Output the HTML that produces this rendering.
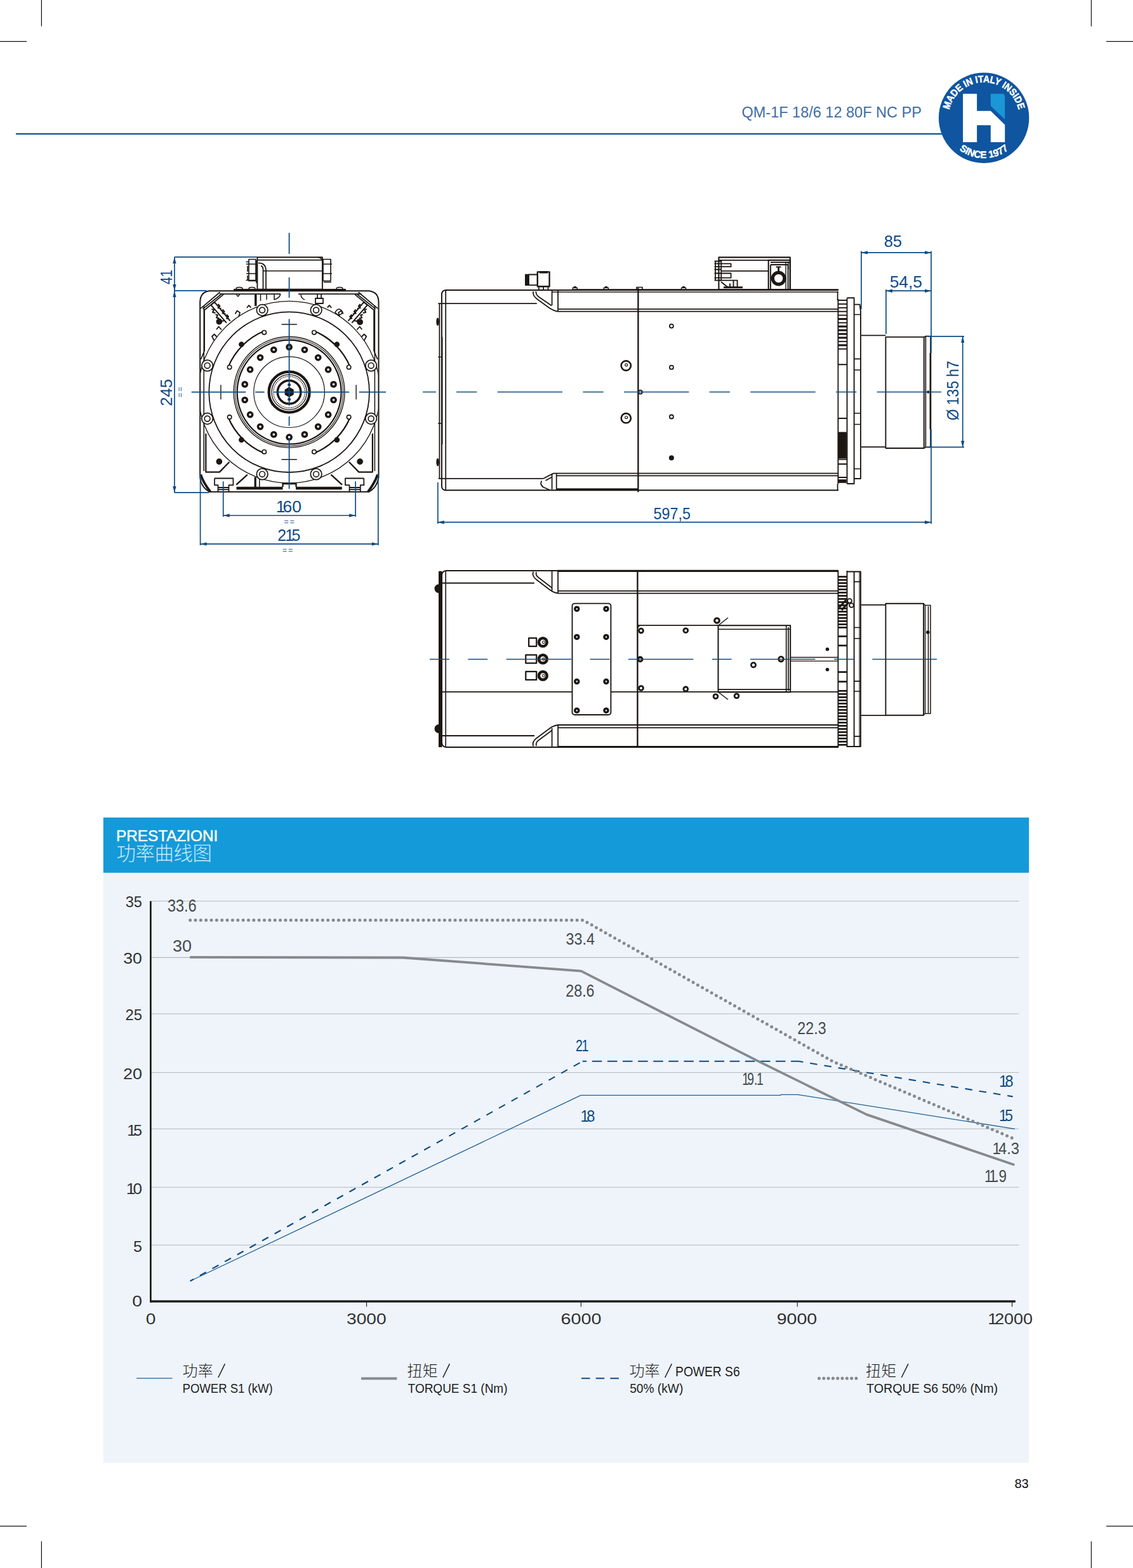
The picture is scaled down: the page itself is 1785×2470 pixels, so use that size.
<!DOCTYPE html>
<html><head><meta charset="utf-8"><title>QM-1F 18/6 12 80F NC PP</title>
<style>
html,body{margin:0;padding:0;background:#fff;}
body{width:1785px;height:2470px;overflow:hidden;}
svg{display:block;font-family:"Liberation Sans",sans-serif;}
</style></head><body>
<svg width="1785" height="2470" viewBox="0 0 1785 2470">
<g stroke="#111" stroke-width="1.2" fill="none">
<line x1="65.4" y1="0" x2="65.4" y2="41.5"/>
<line x1="0" y1="65.4" x2="42" y2="65.4"/>
<line x1="1719.3" y1="0" x2="1719.3" y2="41.5"/>
<line x1="1743" y1="65.4" x2="1785" y2="65.4"/>
<line x1="0" y1="2404.2" x2="42" y2="2404.2"/>
<line x1="65.4" y1="2428" x2="65.4" y2="2470"/>
<line x1="1743" y1="2404.2" x2="1785" y2="2404.2"/>
<line x1="1719.3" y1="2428" x2="1719.3" y2="2470"/>
</g>
<rect x="25" y="209.8" width="1460" height="2.2" fill="#12508f"/>
<text transform="translate(1168.44,185.30) scale(0.9493,1)" font-size="24.78" fill="#3f6da3">QM-1F 18/6 12 80F NC PP</text>
<circle cx="1550.1" cy="185.7" r="71.2" fill="#0f55a0"/>
<path d="M1517.1 147.8H1539.1V174.7H1560.8L1583.2 196.4V224.1H1560.8V197.2H1539.1V224.1H1517.1Z" fill="#fff"/>
<path d="M1560.8 147.8H1581.4L1583.2 151.5V187.9L1560.8 167Z" fill="#1b96d6"/>
<defs><path id="arcT" d="M1494.1 185.7A56 56 0 0 1 1606.1 185.7"/><path id="arcB" d="M1486.6 185.7A63.5 63.5 0 0 0 1613.6 185.7"/></defs>
<text font-size="15.5" font-weight="bold" fill="#fff" stroke="#fff" stroke-width="0.5" text-anchor="middle"><textPath href="#arcT" startOffset="50%" textLength="150" lengthAdjust="spacingAndGlyphs">MADE IN ITALY INSIDE</textPath></text>
<text font-size="15.5" font-weight="bold" fill="#fff" stroke="#fff" stroke-width="0.4" text-anchor="middle"><textPath href="#arcB" startOffset="50%" textLength="84" lengthAdjust="spacingAndGlyphs">SINCE 1977</textPath></text>
<text transform="translate(1598.50,2343.60) scale(0.9811,1)" font-size="20.29" fill="#111">83</text>
<g fill="none" stroke="#1d1714" stroke-linecap="butt" stroke-linejoin="round">
<defs><clipPath id="hc"><rect x="316" y="459" width="279.4" height="315"/></clipPath></defs>
<rect x="405.4" y="405.2" width="102.5" height="50.4" rx="0" stroke-width="1.89" fill="none"/>
<path d="M405.4 409.6L507.9 409.6M415.0 426.7L507.9 426.7" stroke-width="1.65"/>
<path d="M500 405.2Q507.9 405.5 507.9 413" stroke-width="1.42"/>
<path d="M404 410V446 M392 408.5h11v34h-11z M388 416h16 M388 431h16 M390 419v9 M390 434v7 M387.5 412.5h4 M387.5 441.5h16" stroke-width="1.65"/>
<path d="M407 414.5Q418 414 419 425V455 M411 419Q414.5 419 414.5 425V455" stroke-width="1.77"/>
<path d="M509 408.5h12v34h-12z M509 416h14 M509 431h14 M521 419v9 M521 434v7 M510 444.5h12" stroke-width="1.65"/>
<path d="M368.0 456.6L545.0 456.6" stroke-width="3.07"/>
<path d="M372 455a4 2 0 0 1 10 0 M392 455a4 2 0 0 1 10 0 M530 455a4 2 0 0 1 10 0" stroke-width="1.53"/>
<path d="M329.5 458.2H581.5Q596.5 460 596.5 476V752Q594 768 581 774.8H330.4Q317 768 315.2 752V476Q315.5 460 329.5 458.2Z" stroke-width="2.01"/>
<path d="M346.0 463.2L442.0 463.2M470.0 463.2L569.4 463.2" stroke-width="1.77"/>
<path d="M321.2 482.0L321.2 742.0M590.4 482.0L590.4 742.0" stroke-width="1.53"/>
<path d="M316.2 485.9L346.6 460.3 M319.5 486.6L349.5 462.8 M321.7 488.8L352.1 463.9 M595 485.9L564.6 460.3 M591.7 486.6L561.7 462.8 M589.5 488.8L559.1 463.9" stroke-width="1.77"/>
<path d="M316.3 747.5Q320 760 331.5 774.6 M594.9 747.5Q591 760 579.7 774.6" stroke-width="3.78"/>
<g clip-path="url(#hc)"><circle cx="455.6" cy="617.7" r="143.3" stroke-width="1.4"/></g>
<circle cx="455.6" cy="617.7" r="126.3" stroke-width="1.77" fill="none"/>
<path d="M432 463.2V472Q440 470 442 463.2 M474 463.2Q474 470 480 472" stroke-width="1.53"/>
<path d="M322.1 489V552.5L316.5 566 M589.1 489V552.5L594.7 566" stroke-width="1.77"/>
<path d="M332.7 480.8L356.9 508.6 M337.8 475.6L362.7 505.6 M332 481.2L337.8 475.6 M343.5 479L346.5 482.5L343.5 485L348.5 486 M350.5 487.5L353.5 491L350.5 493.5L355.5 494.5 M357 495.5L360 499L357 501.5L361 502.5 M333.5 487L337 488L335 492L339.5 493 M339.5 495.5L343 496.5L341 500.5L345.5 501.5 M346 503L349 506L353.5 505" stroke-width="2.01"/>
<path d="M578.5 480.8L554.3 508.6 M573.4 475.6L548.5 505.6 M579.2 481.2L573.4 475.6 M567.7 479L564.7 482.5L567.7 485L562.7 486 M560.7 487.5L557.7 491L560.7 493.5L555.7 494.5 M554.2 495.5L551.2 499L554.2 501.5L550.2 502.5 M577.7 487L574.2 488L576.2 492L571.7 493 M571.7 495.5L568.2 496.5L570.2 500.5L565.7 501.5 M565.2 503L562.2 506L557.7 505" stroke-width="2.01"/>
<path d="M337.5 536.5L334 530L337.5 526.5L341.5 530.5 M341 519L344.5 514.5L349 519.5 M370.5 494.5L373.5 489.5L378 492.5L376 499 M389 485L392 481L395.5 484.5" stroke-width="1.77"/>
<path d="M573.7 536.5L577.2 530L573.7 526.5L569.7 530.5 M570.2 519L566.7 514.5L562.2 519.5 M540.7 494.5L537.7 489.5L533.2 492.5L535.2 499 M522.2 485L519.2 481L515.7 484.5" stroke-width="1.77"/>
<path d="M402.8 463.9V482" stroke-width="3.54"/>
<path d="M410.5 463.9V474 M420 463.9V472 M372.5 463.9l2.5 3l2.5 -3" stroke-width="1.53"/>
<path d="M497 470h12v8h-12z M500 463v7 M506 463v7" stroke-width="1.77"/>
<path d="M540 492q-6 -10 -12 0q6 8 12 0" stroke-width="1.53"/>
<circle cx="455.6" cy="617.7" r="87.4" stroke-width="1.42" fill="none"/>
<circle cx="455.6" cy="617.7" r="85.0" stroke-width="1.06" fill="none"/>
<circle cx="455.6" cy="617.7" r="82.0" stroke-width="2.24" fill="none"/>
<circle cx="455.6" cy="617.7" r="55.8" stroke-width="1.18" fill="none"/>
<circle cx="455.6" cy="617.7" r="32.0" stroke-width="4.25" fill="none"/>
<circle cx="455.6" cy="617.7" r="27.6" stroke-width="1.30" fill="none"/>
<circle cx="455.6" cy="617.7" r="24.8" stroke-width="1.3" stroke-dasharray="1.6 1.2"/>
<circle cx="455.6" cy="617.7" r="18.3" stroke-width="3.54" fill="none"/>
<polygon points="462.2,621.5 455.6,625.3 449.0,621.5 449.0,613.9 455.6,610.1 462.2,613.9" fill="#1d1714" stroke="#1d1714" stroke-width="1"/>
<circle cx="455.6" cy="606.2" r="1.8" stroke-width="1.18" fill="#1d1714"/>
<circle cx="455.6" cy="629.2" r="1.8" stroke-width="1.18" fill="#1d1714"/>
<circle cx="455.6" cy="546.7" r="3.6" stroke-width="3.54" fill="#fff"/>
<circle cx="431.3" cy="551.0" r="3.6" stroke-width="3.54" fill="#fff"/>
<circle cx="410.0" cy="563.3" r="3.6" stroke-width="3.54" fill="#fff"/>
<circle cx="394.1" cy="582.2" r="3.6" stroke-width="3.54" fill="#fff"/>
<circle cx="385.7" cy="605.4" r="3.6" stroke-width="3.54" fill="#fff"/>
<circle cx="385.7" cy="630.0" r="3.6" stroke-width="3.54" fill="#fff"/>
<circle cx="394.1" cy="653.2" r="3.6" stroke-width="3.54" fill="#fff"/>
<circle cx="410.0" cy="672.1" r="3.6" stroke-width="3.54" fill="#fff"/>
<circle cx="431.3" cy="684.4" r="3.6" stroke-width="3.54" fill="#fff"/>
<circle cx="455.6" cy="688.7" r="3.6" stroke-width="3.54" fill="#fff"/>
<circle cx="479.9" cy="684.4" r="3.6" stroke-width="3.54" fill="#fff"/>
<circle cx="501.2" cy="672.1" r="3.6" stroke-width="3.54" fill="#fff"/>
<circle cx="517.1" cy="653.2" r="3.6" stroke-width="3.54" fill="#fff"/>
<circle cx="525.5" cy="630.0" r="3.6" stroke-width="3.54" fill="#fff"/>
<circle cx="525.5" cy="605.4" r="3.6" stroke-width="3.54" fill="#fff"/>
<circle cx="517.1" cy="582.2" r="3.6" stroke-width="3.54" fill="#fff"/>
<circle cx="501.2" cy="563.3" r="3.6" stroke-width="3.54" fill="#fff"/>
<circle cx="479.9" cy="551.0" r="3.6" stroke-width="3.54" fill="#fff"/>
<circle cx="413.1" cy="488.5" r="8.8" stroke-width="1.77" fill="#fff"/>
<circle cx="413.1" cy="488.5" r="4.4" stroke-width="1.65" fill="none"/>
<circle cx="326.6" cy="575.9" r="8.8" stroke-width="1.77" fill="#fff"/>
<circle cx="326.6" cy="575.9" r="4.4" stroke-width="1.65" fill="none"/>
<circle cx="413.1" cy="746.9" r="8.8" stroke-width="1.77" fill="#fff"/>
<circle cx="413.1" cy="746.9" r="4.4" stroke-width="1.65" fill="none"/>
<circle cx="326.6" cy="659.5" r="8.8" stroke-width="1.77" fill="#fff"/>
<circle cx="326.6" cy="659.5" r="4.4" stroke-width="1.65" fill="none"/>
<circle cx="498.1" cy="488.5" r="8.8" stroke-width="1.77" fill="#fff"/>
<circle cx="498.1" cy="488.5" r="4.4" stroke-width="1.65" fill="none"/>
<circle cx="584.6" cy="575.9" r="8.8" stroke-width="1.77" fill="#fff"/>
<circle cx="584.6" cy="575.9" r="4.4" stroke-width="1.65" fill="none"/>
<circle cx="498.1" cy="746.9" r="8.8" stroke-width="1.77" fill="#fff"/>
<circle cx="498.1" cy="746.9" r="4.4" stroke-width="1.65" fill="none"/>
<circle cx="584.6" cy="659.5" r="8.8" stroke-width="1.77" fill="#fff"/>
<circle cx="584.6" cy="659.5" r="4.4" stroke-width="1.65" fill="none"/>
<path d="M551.5 577.6A104 104 0 0 0 495.7 521.8" stroke-width="2.24"/>
<circle cx="549.6" cy="578.4" r="3.2" stroke-width="1.65" fill="#fff"/>
<circle cx="494.9" cy="523.7" r="3.2" stroke-width="1.65" fill="#fff"/>
<circle cx="530.8" cy="542.5" r="3.7" stroke-width="1.18" fill="#1d1714"/>
<path d="M415.5 521.8A104 104 0 0 0 359.7 577.6" stroke-width="2.24"/>
<circle cx="416.3" cy="523.7" r="3.2" stroke-width="1.65" fill="#fff"/>
<circle cx="361.6" cy="578.4" r="3.2" stroke-width="1.65" fill="#fff"/>
<circle cx="380.4" cy="542.5" r="3.7" stroke-width="1.18" fill="#1d1714"/>
<path d="M359.7 657.8A104 104 0 0 0 415.5 713.6" stroke-width="2.24"/>
<circle cx="361.6" cy="657.0" r="3.2" stroke-width="1.65" fill="#fff"/>
<circle cx="416.3" cy="711.7" r="3.2" stroke-width="1.65" fill="#fff"/>
<circle cx="380.4" cy="692.9" r="3.7" stroke-width="1.18" fill="#1d1714"/>
<path d="M495.7 713.6A104 104 0 0 0 551.5 657.8" stroke-width="2.24"/>
<circle cx="494.9" cy="711.7" r="3.2" stroke-width="1.65" fill="#fff"/>
<circle cx="549.6" cy="657.0" r="3.2" stroke-width="1.65" fill="#fff"/>
<circle cx="530.8" cy="692.9" r="3.7" stroke-width="1.18" fill="#1d1714"/>
<circle cx="345.3" cy="506.6" r="4.3" stroke-width="1.18" fill="#1d1714"/>
<circle cx="567.1" cy="507.2" r="4.3" stroke-width="1.18" fill="#1d1714"/>
<circle cx="345.3" cy="727.1" r="4.3" stroke-width="1.18" fill="#1d1714"/>
<circle cx="567.1" cy="727.1" r="4.3" stroke-width="1.18" fill="#1d1714"/>
<path d="M443.5 511.0L467.9 511.0M443.5 723.8L467.9 723.8M347.9 606.3L347.9 629.3M561.1 606.3L561.1 629.3" stroke-width="1.42"/>
<path d="M338 753.5H367.4V764.2H360.5V774.8 M338 753.5V764.2H343.5V774.8 M343.5 768H360.5 M343.5 771.2H360.5" stroke-width="1.77"/>
<path d="M573.3 753.5H544V764.2H550.5V774.8 M573.3 753.5V764.2H567.8V774.8 M567.8 768H550.5 M567.8 771.2H550.5" stroke-width="1.77"/>
<path d="M372.5 769.0L445.5 769.0M466.0 769.0L538.7 769.0" stroke-width="4.72"/>
<path d="M372.2 763.7L389.8 747.6 M539 763.7L521.4 747.6 M445.5 767v-5h21v5" stroke-width="2.36"/>
<path d="M402.2 751.5V767" stroke-width="3.30"/>
<path d="M408.8 755V767" stroke-width="1.53"/>
<path d="M324.3 683V743.6H345.9L361.3 727.8 M586.9 683V743.6H565.3L549.9 727.8" stroke-width="2.24"/>
</g>
<g stroke="#0e4a84" stroke-width="1.5" fill="none">
<path d="M455.6 366.7L455.6 400.0M455.6 437.0L455.6 469.0M455.6 502.5L455.6 639.0M455.6 656.0L455.6 670.7M455.6 690.8L455.6 770.0" stroke-width="1.77"/>
<path d="M301.7 617.7L387.3 617.7M402.0 617.7L416.6 617.7M431.3 617.7L550.2 617.7M565.7 617.7L608.0 617.7" stroke-width="1.77"/>
</g>
<line x1="274.9" y1="404.9" x2="405" y2="404.9" stroke="#0e4a84" stroke-width="1.7"/>
<line x1="274.9" y1="457.9" x2="325.4" y2="457.9" stroke="#0e4a84" stroke-width="1.7"/>
<line x1="274.9" y1="775.9" x2="329.3" y2="775.9" stroke="#0e4a84" stroke-width="1.7"/>
<line x1="274.9" y1="404.9" x2="274.9" y2="457.9" stroke="#0e4a84" stroke-width="1.7"/>
<polygon points="274.9,404.9 277.6,414.9 272.2,414.9" fill="#0e4a84" stroke="none"/>
<polygon points="274.9,457.9 272.2,447.9 277.6,447.9" fill="#0e4a84" stroke="none"/>
<line x1="274.9" y1="457.9" x2="274.9" y2="775.9" stroke="#0e4a84" stroke-width="1.7"/>
<polygon points="274.9,457.9 277.6,467.9 272.2,467.9" fill="#0e4a84" stroke="none"/>
<polygon points="274.9,775.9 272.2,765.9 277.6,765.9" fill="#0e4a84" stroke="none"/>
<text transform="translate(270.60,448.12) rotate(-90) scale(0.7873,1)" font-size="26.38" fill="#0e4a84">41</text>
<text transform="translate(270.60,639.79) rotate(-90) scale(1.0000,1)" font-size="25.71" fill="#0e4a84">245</text>
<path d="M282.2 610.1v6 M285.4 610.1v6" stroke="#0e4a84" stroke-width="0.9" fill="none"/>
<path d="M282.2 619.3v6 M285.4 619.3v6" stroke="#0e4a84" stroke-width="0.9" fill="none"/>
<line x1="351.7" y1="758.3" x2="351.7" y2="814" stroke="#0e4a84" stroke-width="1.7"/>
<line x1="560.1" y1="758.3" x2="560.1" y2="814" stroke="#0e4a84" stroke-width="1.7"/>
<line x1="351.7" y1="812" x2="560.1" y2="812" stroke="#0e4a84" stroke-width="1.7"/>
<polygon points="351.7,812.0 361.7,809.3 361.7,814.7" fill="#0e4a84" stroke="none"/>
<polygon points="560.1,812.0 550.1,814.7 550.1,809.3" fill="#0e4a84" stroke="none"/>
<text transform="translate(434.72,807.10) scale(1.0443,1)" font-size="25.29" fill="#0e4a84" dx="0.00 -3.79 0.00">160</text>
<path d="M448.2 820.4h6 M448.2 823.6h6" stroke="#0e4a84" stroke-width="0.9" fill="none"/>
<path d="M457.4 820.4h6 M457.4 823.6h6" stroke="#0e4a84" stroke-width="0.9" fill="none"/>
<line x1="315.6" y1="746.6" x2="315.6" y2="859" stroke="#0e4a84" stroke-width="1.7"/>
<line x1="595.8" y1="746.6" x2="595.8" y2="859" stroke="#0e4a84" stroke-width="1.7"/>
<line x1="315.6" y1="856.9" x2="595.8" y2="856.9" stroke="#0e4a84" stroke-width="1.7"/>
<polygon points="315.6,856.9 325.6,854.2 325.6,859.6" fill="#0e4a84" stroke="none"/>
<polygon points="595.8,856.9 585.8,859.6 585.8,854.2" fill="#0e4a84" stroke="none"/>
<text transform="translate(437.36,852.00) scale(0.9899,1)" font-size="25.14" fill="#0e4a84" dx="0.00 -1.89 -3.77">215</text>
<path d="M445.6 865.2h6 M445.6 868.4h6" stroke="#0e4a84" stroke-width="0.9" fill="none"/>
<path d="M454.8 865.2h6 M454.8 868.4h6" stroke="#0e4a84" stroke-width="0.9" fill="none"/>
<g fill="none" stroke="#1d1714" stroke-linecap="butt" stroke-linejoin="round">
<path d="M1321 457H702.2Q696 457.5 695.9 464V766Q696.5 772.5 702.5 772.3H1321" stroke-width="2.01"/>
<path d="M1319.6 459.0L1319.6 473.0M1320.4 574.0L1320.4 659.0M1319.6 762.0L1319.6 773.0" stroke-width="1.77"/>
<path d="M702.2 457.0L702.2 772.3" stroke-width="1.77"/>
<path d="M690.3 478.2L845.8 478.2M690.8 753.8L856.1 753.8" stroke-width="1.77"/>
<path d="M692.4 478.2L692.4 753.8" stroke-width="1.77"/>
<path d="M696.9 530.6L696.9 700.0" stroke-width="1.30"/>
<path d="M690 562.3h6 M690 667h6" stroke-width="1.30"/>
<ellipse cx="689.6" cy="506.8" rx="2.3" ry="6.3" fill="#1d1714" stroke="none"/><ellipse cx="689.6" cy="728.1" rx="2.3" ry="6.3" fill="#1d1714" stroke="none"/>
<path d="M902.0 456.6L1321.0 456.6" stroke-width="2.83"/>
<path d="M869.6 460.0L1321.0 460.0" stroke-width="1.30"/>
<path d="M879.1 486.9L1321.0 486.9M879.1 490.6L1321.0 490.6" stroke-width="1.77"/>
<path d="M869.6 457V481 M879.1 457V491" stroke-width="1.77"/>
<path d="M840.2 459Q838.5 465 846 471L866 485.5Q872 489.5 879.1 490.9 M844.5 459Q843.5 464 850 468.5L869 481.5" stroke-width="1.77"/>
<rect x="846.8" y="428.4" width="18.8" height="22.8" rx="0" stroke-width="2.36" fill="none"/>
<path d="M850.0 428.8L863.0 428.8" stroke-width="3.54"/>
<rect x="833.0" y="432.5" width="13.8" height="16.7" rx="0" stroke-width="1.77" fill="none"/>
<rect x="827.6" y="432.3" width="5.0" height="17.0" rx="0" stroke-width="1.18" fill="#1d1714"/>
<path d="M849 451.2V457 M863.5 451.2V457 M856 451.2v5" stroke-width="1.77"/>
<path d="M902.3 456V453.2h7V456 M903.8 451.8h4" stroke-width="1.42"/>
<path d="M951.4 456V453.2h7V456 M952.9 451.8h4" stroke-width="1.42"/>
<path d="M1073.5 456V453.2h7V456 M1075 451.8h4" stroke-width="1.42"/>
<path d="M1003 456V452.5h9V456" stroke-width="1.65"/>
<path d="M872.0 745.6L1321.0 745.6M876.7 749.4L1321.0 749.4" stroke-width="1.77"/>
<path d="M876.7 770.9L1005.0 770.9" stroke-width="3.07"/>
<path d="M869.6 746.5V771 M876.7 745.6V772.3" stroke-width="1.77"/>
<path d="M856.1 753.8L872 745.6 M859.5 757L869.6 751.5 M853.5 757.5Q850 763 856 767.5L866 771.8" stroke-width="1.77"/>
<path d="M1005.4 453.5L1005.4 775.3" stroke-width="2.36"/>
<circle cx="986.3" cy="576.0" r="7.6" stroke-width="2.60" fill="none"/>
<circle cx="986.7" cy="574.8" r="2.0" stroke-width="1.18" fill="none"/>
<circle cx="986.3" cy="658.7" r="7.6" stroke-width="2.60" fill="none"/>
<circle cx="986.7" cy="657.5" r="2.0" stroke-width="1.18" fill="none"/>
<circle cx="1057.9" cy="513.6" r="3.0" stroke-width="1.77" fill="none"/>
<circle cx="1057.9" cy="578.7" r="3.0" stroke-width="1.77" fill="none"/>
<circle cx="1057.9" cy="656.5" r="3.0" stroke-width="1.77" fill="none"/>
<circle cx="1057.9" cy="721.3" r="3.4" stroke-width="1.18" fill="#1d1714"/>
<circle cx="1008.8" cy="617.6" r="3.0" stroke-width="1.89" fill="none"/>
<rect x="1132.4" y="405.4" width="112.4" height="51.2" rx="0" stroke-width="2.12" fill="none"/>
<path d="M1132.4 409.8L1244.8 409.8M1136.2 426.8L1211.0 426.8" stroke-width="1.65"/>
<path d="M1136.2 409.8V441.6 M1125.5 411.5h10.7 M1125.5 415.4H1151.6V420.1H1125.5 M1125.5 424.5h10.7 M1125.5 430.5H1151.6V437.6H1125.5 M1125.5 441.6h10.7 M1127 411.5V441.6" stroke-width="1.77"/>
<path d="M1132.4 441.6H1161.6V452.7 M1136 444L1147 452.7H1161.6 M1150 446.5v6 M1155.5 441.6v11" stroke-width="1.89"/>
<path d="M1140.0 452.7L1170.0 452.7" stroke-width="2.83"/>
<rect x="1210.7" y="409.8" width="34.1" height="46.8" rx="0" stroke-width="2.12" fill="none"/>
<path d="M1214 417H1241.5V456.6 M1214 417V456.6 M1214 413.2H1244.8 M1222.5 420.5h8" stroke-width="1.89"/>
<circle cx="1226.6" cy="438.6" r="9.3" stroke-width="5.19" fill="none"/>
<path d="M1226.6 421v8" stroke-width="2.83"/>
<path d="M1238.0 412.0L1238.0 456.0M1241.8 412.0L1241.8 424.0" stroke-width="1.42"/>
<path d="M1320.6 473.0L1334.4 473.0" stroke-width="1.89"/>
<path d="M1320.6 478.9L1334.4 478.9" stroke-width="1.89"/>
<path d="M1320.6 484.8L1334.4 484.8" stroke-width="1.89"/>
<path d="M1320.6 490.7L1334.4 490.7" stroke-width="1.89"/>
<path d="M1320.6 496.6L1334.4 496.6" stroke-width="1.89"/>
<path d="M1320.6 502.5L1334.4 502.5" stroke-width="3.07"/>
<path d="M1320.6 508.4L1334.4 508.4" stroke-width="1.89"/>
<path d="M1320.6 514.3L1334.4 514.3" stroke-width="3.07"/>
<path d="M1320.6 520.2L1334.4 520.2" stroke-width="3.07"/>
<path d="M1320.6 526.1L1334.4 526.1" stroke-width="3.07"/>
<path d="M1320.6 532.0L1334.4 532.0" stroke-width="3.07"/>
<path d="M1320.6 537.9L1334.4 537.9" stroke-width="1.89"/>
<path d="M1320.6 543.8L1334.4 543.8" stroke-width="3.07"/>
<path d="M1320.6 549.7L1334.4 549.7" stroke-width="1.89"/>
<path d="M1334.5 469.5L1334.5 762.0M1320.4 471.0L1320.4 574.3M1320.4 574.3L1334.5 574.3" stroke-width="1.89"/>
<path d="M1334.5 469.3H1345.6V762H1334.5" stroke-width="1.89"/>
<path d="M1345.6 479.6H1354.5L1355.9 490V754H1345.6" stroke-width="1.89"/>
<path d="M1345.6 495.5h9.5 M1345.6 565.3h10.3 M1345.6 582.7h10.3 M1345.6 651h10.3 M1345.6 668.5h10.3 M1345.6 738.5h10.3" stroke-width="1.65"/>
<path d="M1320.4 659H1334.5 M1320.4 659V762 M1320.4 723.5h14.1 M1320.4 731h14.1 M1320.4 752h14.1" stroke-width="1.89"/>
<rect x="1321.6" y="681.0" width="11.6" height="40.5" rx="0" stroke-width="1.18" fill="#1d1714"/>
<rect x="1321.6" y="755.8" width="11.4" height="4.4" rx="0" stroke-width="1.18" fill="#1d1714"/>
<path d="M1356.6 528.3H1395.4 M1356.6 704.2H1395.4" stroke-width="1.77"/>
<path d="M1395.4 530.9H1455.7V706H1395.4Z" stroke-width="1.89"/>
<path d="M1455.7 530.9L1458.4 529.6H1466V704.4H1458.4L1455.7 706 M1458.4 529.6V704.4" stroke-width="1.65"/>
<path d="M1465.9 556v120" stroke-width="2.71"/>
<circle cx="1462.3" cy="617.5" r="1.6" stroke-width="1.18" fill="#1d1714"/>
</g>
<path d="M666 617.6H1483" stroke="#0e4a84" stroke-width="1.5" stroke-dasharray="102.4 32.3 32.3 32.3" stroke-dashoffset="81.6" fill="none"/>
<line x1="689.8" y1="759.8" x2="689.8" y2="825" stroke="#0e4a84" stroke-width="1.7"/>
<line x1="689.8" y1="822.7" x2="1467.0" y2="822.7" stroke="#0e4a84" stroke-width="1.7"/>
<polygon points="689.8,822.7 699.8,820.0 699.8,825.4" fill="#0e4a84" stroke="none"/>
<polygon points="1467.0,822.7 1457.0,825.4 1457.0,820.0" fill="#0e4a84" stroke="none"/>
<line x1="1467.0" y1="395.5" x2="1467.0" y2="556" stroke="#0e4a84" stroke-width="1.7"/>
<line x1="1467.0" y1="676" x2="1467.0" y2="825" stroke="#0e4a84" stroke-width="1.7"/>
<text transform="translate(1029.46,817.80) scale(0.9066,1)" font-size="25.80" fill="#0e4a84">597,5</text>
<line x1="1356.9" y1="395.5" x2="1356.9" y2="487" stroke="#0e4a84" stroke-width="1.7"/>
<line x1="1356.9" y1="397.9" x2="1467.0" y2="397.9" stroke="#0e4a84" stroke-width="1.7"/>
<polygon points="1356.9,397.9 1366.9,395.2 1366.9,400.6" fill="#0e4a84" stroke="none"/>
<polygon points="1467.0,397.9 1457.0,400.6 1457.0,395.2" fill="#0e4a84" stroke="none"/>
<text transform="translate(1392.68,389.10) scale(1.0175,1)" font-size="25.00" fill="#0e4a84">85</text>
<line x1="1395.9" y1="456" x2="1395.9" y2="526" stroke="#0e4a84" stroke-width="1.7"/>
<line x1="1395.9" y1="458.2" x2="1467.0" y2="458.2" stroke="#0e4a84" stroke-width="1.7"/>
<polygon points="1395.9,458.2 1405.9,455.5 1405.9,460.9" fill="#0e4a84" stroke="none"/>
<polygon points="1467.0,458.2 1457.0,460.9 1457.0,455.5" fill="#0e4a84" stroke="none"/>
<text transform="translate(1401.75,453.30) scale(1.0518,1)" font-size="24.93" fill="#0e4a84">54,5</text>
<line x1="1461.9" y1="529.8" x2="1519" y2="529.8" stroke="#0e4a84" stroke-width="1.7"/>
<line x1="1461.9" y1="704.4" x2="1519" y2="704.4" stroke="#0e4a84" stroke-width="1.7"/>
<line x1="1516.7" y1="529.8" x2="1516.7" y2="704.4" stroke="#0e4a84" stroke-width="1.7"/>
<polygon points="1516.7,529.8 1519.4,539.8 1514.0,539.8" fill="#0e4a84" stroke="none"/>
<polygon points="1516.7,704.4 1514.0,694.4 1519.4,694.4" fill="#0e4a84" stroke="none"/>
<text transform="translate(1510.20,662.20) rotate(-90) scale(0.8887,1)" font-size="25.66" fill="#0e4a84">Ø 135 h7</text>
<g fill="none" stroke="#1d1714" stroke-linecap="butt" stroke-linejoin="round">
<path d="M1321 899H703Q696.5 899.5 696 906V1170Q696.5 1176.5 703 1177H1321" stroke-width="2.01"/>
<path d="M693.7 899.8L693.7 1177.0" stroke-width="5.43"/>
<path d="M702.2 899.0L702.2 1177.0" stroke-width="1.65"/>
<path d="M696.0 918.5L841.8 918.5M696.0 1159.0L842.0 1159.0" stroke-width="1.77"/>
<path d="M696.0 1089.8L901.5 1089.8M962.4 1089.8L1320.0 1089.8" stroke-width="1.77"/>
<path d="M691.5 920.3a7 7 0 0 0 0 14z M691.5 1141a7 7 0 0 0 0 14z" fill="#1d1714" stroke="none"/>
<path d="M878.3 899.4L1321.0 899.4" stroke-width="3.30"/>
<path d="M879.1 930.8L1321.0 930.8M879.1 934.7L1321.0 934.7" stroke-width="1.77"/>
<path d="M869.6 899V930 M879.1 899V934.7" stroke-width="1.77"/>
<path d="M840.2 900.6Q837.5 907 845 913L866 929Q872 933.5 879.1 934.7 M845 901Q843 906.5 850 911L869.6 926" stroke-width="1.77"/>
<path d="M879.1 1142.0L1321.0 1142.0M879.1 1146.3L1321.0 1146.3" stroke-width="1.77"/>
<path d="M878.3 1176.4L1321.0 1176.4" stroke-width="2.83"/>
<path d="M869.6 1147V1177 M879.1 1142V1177" stroke-width="1.77"/>
<path d="M840.2 1175.4Q837.5 1169 845 1163L866 1147.5Q872 1143 879.1 1142 M845 1175Q843 1169.5 850 1165L869.6 1150.5" stroke-width="1.77"/>
<path d="M1004.4 899.0L1004.4 1177.0" stroke-width="2.36"/>
<rect x="901.5" y="950.6" width="60.9" height="175.4" rx="4" stroke-width="1.89" fill="none"/>
<circle cx="908.8" cy="959.2" r="3.0" stroke-width="3.54" fill="none"/>
<circle cx="908.8" cy="1003.4" r="3.0" stroke-width="3.54" fill="none"/>
<circle cx="908.8" cy="1073.6" r="3.0" stroke-width="3.54" fill="none"/>
<circle cx="908.8" cy="1119.2" r="3.0" stroke-width="3.54" fill="none"/>
<circle cx="955.0" cy="959.2" r="3.0" stroke-width="3.54" fill="none"/>
<circle cx="955.0" cy="1003.4" r="3.0" stroke-width="3.54" fill="none"/>
<circle cx="955.0" cy="1073.6" r="3.0" stroke-width="3.54" fill="none"/>
<circle cx="955.0" cy="1119.2" r="3.0" stroke-width="3.54" fill="none"/>
<rect x="833.1" y="1005.2" width="12.1" height="13.0" rx="0" stroke-width="2.24" fill="none"/>
<circle cx="855.3" cy="1011.7" r="6.4" stroke-width="4.48" fill="none"/>
<circle cx="856.3" cy="1011.7" r="1.9" stroke-width="1.06" fill="none"/>
<rect x="828.3" y="1031.7" width="16.9" height="13.0" rx="0" stroke-width="2.24" fill="none"/>
<circle cx="855.3" cy="1038.2" r="6.4" stroke-width="4.48" fill="none"/>
<circle cx="856.3" cy="1038.2" r="1.9" stroke-width="1.06" fill="none"/>
<rect x="828.3" y="1057.9" width="16.9" height="13.0" rx="0" stroke-width="2.24" fill="none"/>
<circle cx="855.3" cy="1064.4" r="6.4" stroke-width="4.48" fill="none"/>
<circle cx="856.3" cy="1064.4" r="1.9" stroke-width="1.06" fill="none"/>
<path d="M1005 985.2H1131.5 M1009 985.2Q1005.5 985.5 1005 989" stroke-width="1.77"/>
<rect x="1131.5" y="985.2" width="113.7" height="105.1" rx="0" stroke-width="2.01" fill="none"/>
<path d="M1131.5 991.2L1245.2 991.2M1131.5 1086.1L1245.2 1086.1M1238.7 985.2L1238.7 1090.3M1242.0 988.0L1242.0 1088.0" stroke-width="1.65"/>
<path d="M1132 985L1147 973 M1132 1090.5L1147 1102" stroke-width="1.53"/>
<circle cx="1010.0" cy="993.6" r="3.4" stroke-width="2.83" fill="none"/>
<circle cx="1080.3" cy="993.2" r="3.4" stroke-width="2.83" fill="none"/>
<circle cx="1010.0" cy="1084.0" r="3.4" stroke-width="2.83" fill="none"/>
<circle cx="1080.3" cy="1085.4" r="3.4" stroke-width="2.83" fill="none"/>
<circle cx="1160.5" cy="1096.3" r="3.4" stroke-width="2.83" fill="none"/>
<circle cx="1127.5" cy="1097.0" r="3.4" stroke-width="2.83" fill="none"/>
<circle cx="1129.5" cy="977.5" r="3.8" stroke-width="3.07" fill="none"/>
<circle cx="1008.6" cy="1038.5" r="3.4" stroke-width="3.07" fill="none"/>
<circle cx="1187.0" cy="1047.5" r="3.6" stroke-width="2.60" fill="none"/>
<circle cx="1230.5" cy="1038.2" r="3.8" stroke-width="2.83" fill="none"/>
<circle cx="1303.5" cy="1022.8" r="2.2" stroke-width="1.18" fill="#1d1714"/>
<circle cx="1303.5" cy="1054.8" r="2.2" stroke-width="1.18" fill="#1d1714"/>
<path d="M1245.2 1035.5L1320.0 1035.5M1245.2 1041.4L1320.0 1041.4" stroke-width="1.42"/>
<path d="M1320.6 908.5L1334.0 908.5" stroke-width="2.71"/>
<path d="M1320.6 913.5L1334.0 913.5" stroke-width="2.71"/>
<path d="M1320.6 918.5L1334.0 918.5" stroke-width="2.71"/>
<path d="M1320.6 923.5L1334.0 923.5" stroke-width="2.71"/>
<path d="M1320.6 928.5L1334.0 928.5" stroke-width="2.71"/>
<path d="M1320.6 933.5L1334.0 933.5" stroke-width="2.71"/>
<path d="M1320.6 938.5L1334.0 938.5" stroke-width="2.71"/>
<path d="M1320.6 943.5L1334.0 943.5" stroke-width="2.71"/>
<path d="M1320.6 948.5L1334.0 948.5" stroke-width="2.71"/>
<path d="M1320.6 953.5L1334.0 953.5" stroke-width="2.71"/>
<path d="M1320.6 958.5L1334.0 958.5" stroke-width="2.71"/>
<path d="M1320.6 963.5L1334.0 963.5" stroke-width="2.71"/>
<path d="M1320.6 968.5L1334.0 968.5" stroke-width="2.71"/>
<path d="M1320.6 973.5L1334.0 973.5" stroke-width="2.71"/>
<path d="M1320.6 978.5L1334.0 978.5" stroke-width="2.71"/>
<path d="M1320.6 983.5L1334.0 983.5" stroke-width="2.71"/>
<path d="M1320.6 988.5L1334.0 988.5" stroke-width="2.71"/>
<path d="M1320.6 1002.4L1334.0 1002.4" stroke-width="2.71"/>
<path d="M1320.6 1016.9L1334.0 1016.9" stroke-width="2.71"/>
<path d="M1320.6 1058.6L1334.0 1058.6" stroke-width="2.71"/>
<path d="M1320.6 1073.8L1334.0 1073.8" stroke-width="2.71"/>
<path d="M1320.6 1088.3L1334.0 1088.3" stroke-width="2.71"/>
<path d="M1320.6 1093.3L1334.0 1093.3" stroke-width="2.71"/>
<path d="M1320.6 1098.3L1334.0 1098.3" stroke-width="2.71"/>
<path d="M1320.6 1103.3L1334.0 1103.3" stroke-width="2.71"/>
<path d="M1320.6 1108.3L1334.0 1108.3" stroke-width="2.71"/>
<path d="M1320.6 1113.3L1334.0 1113.3" stroke-width="2.71"/>
<path d="M1320.6 1118.3L1334.0 1118.3" stroke-width="2.71"/>
<path d="M1320.6 1123.3L1334.0 1123.3" stroke-width="2.71"/>
<path d="M1320.6 1128.3L1334.0 1128.3" stroke-width="2.71"/>
<path d="M1320.6 1133.3L1334.0 1133.3" stroke-width="2.71"/>
<path d="M1320.6 1138.3L1334.0 1138.3" stroke-width="2.71"/>
<path d="M1320.6 1143.3L1334.0 1143.3" stroke-width="2.71"/>
<path d="M1320.6 1148.3L1334.0 1148.3" stroke-width="2.71"/>
<path d="M1320.6 1153.3L1334.0 1153.3" stroke-width="2.71"/>
<path d="M1320.6 1158.3L1334.0 1158.3" stroke-width="2.71"/>
<path d="M1320.6 1163.3L1334.0 1163.3" stroke-width="2.71"/>
<path d="M1320.6 1168.3L1334.0 1168.3" stroke-width="2.71"/>
<path d="M1320.6 1173.3L1334.0 1173.3" stroke-width="2.71"/>
<path d="M1320.4 899.0L1320.4 1177.0M1334.5 899.0L1334.5 1177.0" stroke-width="1.89"/>
<path d="M1334.5 900.5H1345.6V1176H1334.5 M1345.6 900.5H1355.9V1176H1345.6" stroke-width="1.89"/>
<path d="M1345.6 916.4h10.3 M1345.6 988.5h10.3 M1345.6 1005.7h10.3 M1345.6 1073.1h10.3 M1345.6 1089h10.3 M1345.6 1159.8h10.3" stroke-width="1.65"/>
<path d="M1354 900v276" stroke-width="1.18"/>
<path d="M1322 957L1333 945 M1326 961L1337 949" stroke-width="3.07"/>
<circle cx="1338.5" cy="946.5" r="3.4" stroke-width="1.89" fill="#fff"/>
<circle cx="1341.5" cy="953.5" r="3.4" stroke-width="1.89" fill="#fff"/>
<path d="M1356.6 952.8H1395.4 M1356.6 1126.8H1395.4" stroke-width="1.77"/>
<path d="M1395.4 950.8H1455V1126.8H1395.4Z" stroke-width="1.89"/>
<path d="M1455 950.8L1457.5 953.5H1466V1124H1457.5L1455 1126.8 M1457.5 953.5V1124 M1462.5 955V1123" stroke-width="1.53"/>
<circle cx="1461.8" cy="996.0" r="2.2" stroke-width="1.18" fill="#1d1714"/>
</g>
<path d="M677 1038.5H1476" stroke="#0e4a84" stroke-width="1.5" stroke-dasharray="102.4 29.5 30.8 29.5" stroke-dashoffset="71.5" fill="none"/>
<rect x="162.8" y="1374" width="1458.2" height="930.3" fill="#eef4fa"/>
<rect x="162.8" y="1287.8" width="1458.2" height="87" fill="#149ad9"/>
<text transform="translate(182.96,1325.20) scale(1.0314,1)" font-size="23.57" fill="#fff" stroke="#fff" stroke-width="0.5">PRESTAZIONI</text>
<text x="183.60 213.55 243.50 273.45 303.40" y="1354.74" font-size="30.4" font-weight="300" fill="#c9eafb" style="font-family:'Liberation Sans','Noto Sans CJK SC',sans-serif">功率曲线图</text>
<g stroke="#b4b9be" stroke-width="1.1">
<line x1="238" y1="1419.5" x2="1605.3" y2="1419.5"/>
<line x1="238" y1="1508.4" x2="1605.3" y2="1508.4"/>
<line x1="238" y1="1597.0" x2="1605.3" y2="1597.0"/>
<line x1="238" y1="1689.5" x2="1605.3" y2="1689.5"/>
<line x1="238" y1="1778.3" x2="1605.3" y2="1778.3"/>
<line x1="238" y1="1870.2" x2="1605.3" y2="1870.2"/>
<line x1="238" y1="1961.2" x2="1605.3" y2="1961.2"/>
</g>
<rect x="236" y="1419.5" width="2.7" height="632" fill="#1a1a1a"/>
<rect x="236" y="2048.3" width="1363.8" height="3.4" fill="#1a1a1a"/>
<g stroke="#1a1a1a" stroke-width="1.1">
<line x1="577.5" y1="2050" x2="577.5" y2="2058.5"/>
<line x1="915.4" y1="2050" x2="915.4" y2="2058.5"/>
<line x1="1256.2" y1="2050" x2="1256.2" y2="2058.5"/>
<line x1="1594.5" y1="2050" x2="1594.5" y2="2058.5"/>
</g>
<text transform="translate(197.78,1428.70) scale(0.9783,1)" font-size="24.00" fill="#303032">35</text>
<text transform="translate(194.37,1518.00) scale(1.1124,1)" font-size="23.86" fill="#303032">30</text>
<text transform="translate(197.41,1607.30) scale(0.9986,1)" font-size="23.86" fill="#303032">25</text>
<text transform="translate(193.95,1700.00) scale(1.1287,1)" font-size="23.86" fill="#303032">20</text>
<text transform="translate(200.14,1788.80) scale(1.0219,1)" font-size="24.20" fill="#303032" dx="0.00 -3.63">15</text>
<text transform="translate(198.85,1881.40) scale(1.0898,1)" font-size="23.86" fill="#303032" dx="0.00 -3.58">10</text>
<text transform="translate(210.00,1972.20) scale(1.0351,1)" font-size="24.20" fill="#303032">5</text>
<text transform="translate(208.21,2058.40) scale(1.1840,1)" font-size="23.86" fill="#303032">0</text>
<text transform="translate(229.82,2086.40) scale(1.1479,1)" font-size="24.43" fill="#303032">0</text>
<text transform="translate(546.02,2086.40) scale(1.1511,1)" font-size="24.43" fill="#303032">3000</text>
<text transform="translate(883.46,2086.40) scale(1.1764,1)" font-size="24.43" fill="#303032">6000</text>
<text transform="translate(1223.72,2086.40) scale(1.1680,1)" font-size="24.43" fill="#303032">9000</text>
<text transform="translate(1556.29,2086.40) scale(1.0965,1)" font-size="24.43" fill="#303032" dx="0.00 -3.66 0.00 0.00 0.00">12000</text>
<polyline fill="none" stroke="#1f5f96" stroke-width="1.3" stroke-linejoin="round" points="299.6,2018 915,1725.4 1229.3,1725.4 1231,1724.3 1256.7,1724.3 1598.9,1778.3"/>
<g fill="none" stroke="#104a82" stroke-width="2.1"><polyline stroke-dasharray="11.2 11.3" stroke-dashoffset="5" points="299.6,2018 917.7,1671.8"/><polyline stroke-dasharray="15.5 8.6" stroke-dashoffset="9" points="917.7,1671.8 1258,1671.8"/><polyline stroke-dasharray="11.5 11" stroke-dashoffset="4" points="1258,1671.8 1595.6,1727.4"/></g>
<polyline fill="none" stroke="#87898c" stroke-width="3.8" stroke-linejoin="round" points="299.1,1507.8 635,1508.5 915.5,1529.6 1192,1670.4 1365.2,1755.6 1598.3,1835"/>
<polyline fill="none" stroke="#87898c" stroke-width="5" stroke-linecap="round" stroke-dasharray="0 8.35" points="299.6,1449.6 919,1449.6 1311.6,1671.8 1597.2,1793.7"/>
<text transform="translate(263.98,1436.20) scale(0.8788,1)" font-size="26.71" fill="#47494d">33.6</text>
<text transform="translate(272.06,1498.70) scale(1.0412,1)" font-size="25.86" fill="#47494d">30</text>
<text transform="translate(891.58,1487.90) scale(0.8738,1)" font-size="26.71" fill="#47494d">33.4</text>
<text transform="translate(891.24,1570.10) scale(0.8625,1)" font-size="27.00" fill="#47494d">28.6</text>
<text transform="translate(907.02,1656.00) scale(0.7447,1)" font-size="26.43" fill="#104a82" dx="0.00 -1.98">21</text>
<text transform="translate(914.52,1766.60) scale(0.9000,1)" font-size="26.43" fill="#104a82" dx="0.00 -3.96">18</text>
<text transform="translate(1256.34,1629.00) scale(0.8651,1)" font-size="26.86" fill="#47494d">22.3</text>
<text transform="translate(1169.35,1709.40) scale(0.7138,1)" font-size="27.14" fill="#47494d" dx="0.00 -4.07 0.00 -2.04">19.1</text>
<text transform="translate(1574.04,1711.90) scale(0.9012,1)" font-size="26.00" fill="#104a82" dx="0.00 -3.90">18</text>
<text transform="translate(1574.10,1765.90) scale(0.8614,1)" font-size="26.38" fill="#104a82" dx="0.00 -3.96">15</text>
<text transform="translate(1563.43,1817.70) scale(0.9089,1)" font-size="26.00" fill="#47494d" dx="0.00 -3.90 0.00 0.00">14.3</text>
<text transform="translate(1550.92,1862.00) scale(0.8232,1)" font-size="27.14" fill="#47494d" dx="0.00 -4.07 -4.07 0.00">11.9</text>
<line x1="215.1" y1="2171.2" x2="271.4" y2="2171.2" stroke="#1f5f96" stroke-width="1.3"/>
<line x1="569" y1="2171.5" x2="625.3" y2="2171.5" stroke="#87898c" stroke-width="3.8"/>
<line x1="916" y1="2171.2" x2="975" y2="2171.2" stroke="#104a82" stroke-width="2.1" stroke-dasharray="13.5 9.2"/>
<line x1="1290.5" y1="2171.2" x2="1350" y2="2171.2" stroke="#87898c" stroke-width="5" stroke-linecap="round" stroke-dasharray="0 7.3"/>
<text x="287.60 311.70" y="2168.24" font-size="24" font-weight="300" fill="#1d1d1f" style="font-family:'Liberation Sans','Noto Sans CJK SC',sans-serif">功率</text>
<line x1="343.8" y1="2170" x2="354.4" y2="2148.3" stroke="#1d1d1f" stroke-width="1.5"/>
<text transform="translate(287.51,2194.00) scale(0.8835,1)" font-size="21.01" fill="#1d1d1f">POWER S1 (kW)</text>
<text x="641.60 665.70" y="2168.24" font-size="24" font-weight="300" fill="#1d1d1f" style="font-family:'Liberation Sans','Noto Sans CJK SC',sans-serif">扭矩</text>
<line x1="697.8" y1="2170" x2="708.4" y2="2148.3" stroke="#1d1d1f" stroke-width="1.5"/>
<text transform="translate(642.62,2194.00) scale(0.9052,1)" font-size="21.01" fill="#1d1d1f">TORQUE S1 (Nm)</text>
<text x="991.50 1015.60" y="2168.24" font-size="24" font-weight="300" fill="#1d1d1f" style="font-family:'Liberation Sans','Noto Sans CJK SC',sans-serif">功率</text>
<line x1="1047.7" y1="2170" x2="1058.3" y2="2148.3" stroke="#1d1d1f" stroke-width="1.5"/>
<text transform="translate(1064.06,2167.90) scale(0.8921,1)" font-size="21.59" fill="#1d1d1f">POWER S6</text>
<text transform="translate(992.13,2194.00) scale(0.9140,1)" font-size="21.01" fill="#1d1d1f">50% (kW)</text>
<text x="1364.10 1388.20" y="2168.24" font-size="24" font-weight="300" fill="#1d1d1f" style="font-family:'Liberation Sans','Noto Sans CJK SC',sans-serif">扭矩</text>
<line x1="1420.3" y1="2170" x2="1430.9" y2="2148.3" stroke="#1d1d1f" stroke-width="1.5"/>
<text transform="translate(1365.11,2194.00) scale(0.9349,1)" font-size="21.01" fill="#1d1d1f">TORQUE S6 50% (Nm)</text>
</svg>
</body></html>
